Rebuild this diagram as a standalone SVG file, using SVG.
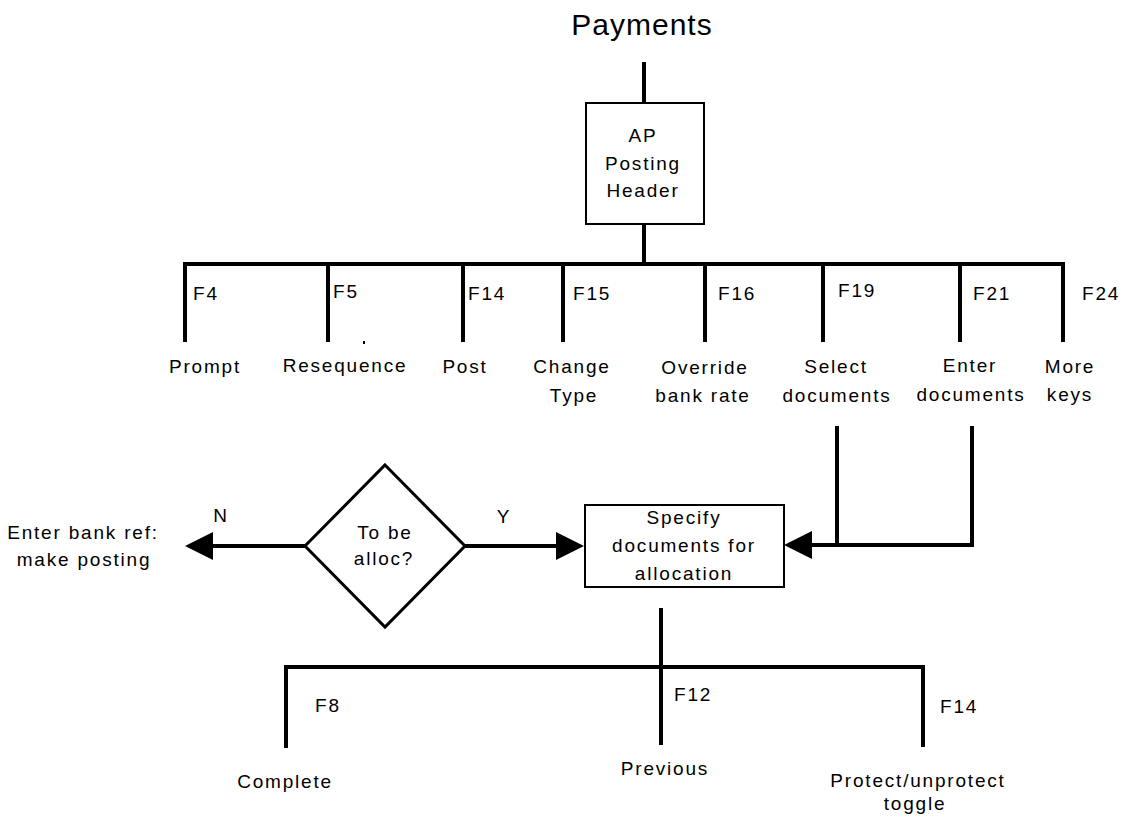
<svg xmlns="http://www.w3.org/2000/svg" width="1125" height="819" viewBox="0 0 1125 819">
  <style>
    text { font-family: "Liberation Sans", Arial, sans-serif; fill: #000; }
    .title { font-size: 30px; letter-spacing: 1px; text-anchor: middle; }
    .lbl { font-size: 19px; letter-spacing: 1.8px; text-anchor: middle; }
    .key { font-size: 19px; letter-spacing: 1.8px; }
    .wire { fill: none; stroke: #000; stroke-width: 4; stroke-linejoin: miter; }
    .box { fill: #fff; stroke: #000; stroke-width: 2; }
    .dia { fill: #fff; stroke: #000; stroke-width: 3; stroke-linejoin: miter; }
  </style>
  <defs>
    <marker id="head" viewBox="0 0 28 28" refX="0" refY="14" markerWidth="28" markerHeight="28" markerUnits="userSpaceOnUse" orient="auto">
      <path d="M0,0 L28,14 L0,28 Z" fill="#000"/>
    </marker>
  </defs>
  <rect width="1125" height="819" fill="#fff"/>

  <text class="title" x="642" y="35">Payments</text>

  <!-- connectors -->
  <g id="connectors">
    <path class="wire" d="M644,62 V103"/>
    <path class="wire" d="M644,224 V264"/>
    <path class="wire" d="M185,342 V264 H1063 V342"/>
    <path class="wire" d="M328,264 V342"/>
    <path class="wire" d="M463,264 V342"/>
    <path class="wire" d="M563,264 V342"/>
    <path class="wire" d="M705,264 V342"/>
    <path class="wire" d="M823,264 V342"/>
    <path class="wire" d="M960,264 V342"/>
    <rect x="363" y="341" width="2" height="3" fill="#000"/>
    <path class="wire" d="M837,426 V545"/>
    <path class="wire" d="M972,426 V545 H812" marker-end="url(#head)"/>
    <path class="wire" d="M305,546 H213" marker-end="url(#head)"/>
    <path class="wire" d="M465,546 H556" marker-end="url(#head)"/>
    <path class="wire" d="M661,608 V745"/>
    <path class="wire" d="M286,748 V667 H923 V747"/>
  </g>

  <g id="posting-header">
    <rect class="box" x="586" y="103" width="118" height="121"/>
    <text class="lbl" x="643" y="142">AP</text>
    <text class="lbl" x="643" y="170">Posting</text>
    <text class="lbl" x="643" y="197">Header</text>
  </g>

  <g id="keys-top">
    <text class="key" x="193" y="300">F4</text>
    <text class="key" x="333" y="298">F5</text>
    <text class="key" x="468" y="300">F14</text>
    <text class="key" x="573" y="300">F15</text>
    <text class="key" x="718" y="300">F16</text>
    <text class="key" x="838" y="297">F19</text>
    <text class="key" x="973" y="300">F21</text>
    <text class="key" x="1082" y="300">F24</text>
  </g>

  <g id="prompt"><text class="lbl" x="205" y="373">Prompt</text></g>
  <g id="resequence"><text class="lbl" x="345" y="372">Resequence</text></g>
  <g id="post"><text class="lbl" x="465" y="373">Post</text></g>
  <g id="change-type">
    <text class="lbl" x="572" y="373">Change</text>
    <text class="lbl" x="574" y="402">Type</text>
  </g>
  <g id="override">
    <text class="lbl" x="705" y="374">Override</text>
    <text class="lbl" x="703" y="402">bank rate</text>
  </g>
  <g id="select-docs">
    <text class="lbl" x="836" y="373">Select</text>
    <text class="lbl" x="837" y="402">documents</text>
  </g>
  <g id="enter-docs">
    <text class="lbl" x="970" y="372">Enter</text>
    <text class="lbl" x="971" y="401">documents</text>
  </g>
  <g id="more-keys">
    <text class="lbl" x="1070" y="373">More</text>
    <text class="lbl" x="1070" y="401">keys</text>
  </g>

  <g id="to-be-alloc">
    <path class="dia" d="M385,465 L465,546 L385,627 L305,546 Z"/>
    <text class="lbl" x="385" y="539">To be</text>
    <text class="lbl" x="384" y="565">alloc?</text>
  </g>
  <text class="lbl" x="221" y="522">N</text>
  <text class="lbl" x="504" y="523">Y</text>

  <g id="bank-ref">
    <text class="lbl" x="83" y="539">Enter bank ref:</text>
    <text class="lbl" x="84" y="566">make posting</text>
  </g>

  <g id="specify-docs">
    <rect class="box" x="585" y="505" width="199" height="82"/>
    <text class="lbl" x="684" y="524">Specify</text>
    <text class="lbl" x="684" y="552">documents for</text>
    <text class="lbl" x="684" y="580">allocation</text>
  </g>

  <g id="keys-bottom">
    <text class="key" x="315" y="712">F8</text>
    <text class="key" x="674" y="701">F12</text>
    <text class="key" x="940" y="713">F14</text>
  </g>

  <g id="complete"><text class="lbl" x="285" y="788">Complete</text></g>
  <g id="previous"><text class="lbl" x="665" y="775">Previous</text></g>
  <g id="protect-toggle">
    <text class="lbl" x="918" y="787">Protect/unprotect</text>
    <text class="lbl" x="915" y="810">toggle</text>
  </g>
</svg>
